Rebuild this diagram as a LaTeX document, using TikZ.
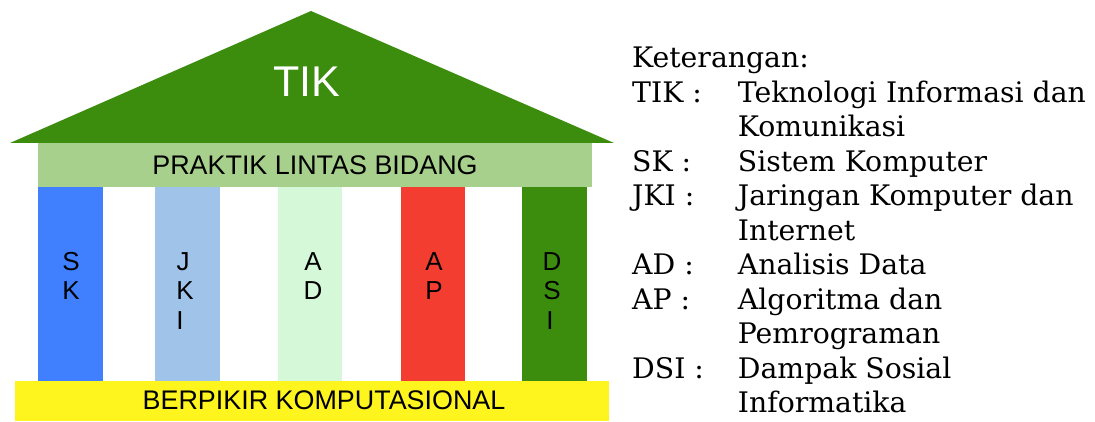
\documentclass[tikz,border=0pt]{standalone}
\usepackage{fontspec}
\setmainfont{DejaVu Serif}
\newfontfamily\arialf{Liberation Sans}
\definecolor{roofgreen}{RGB}{60,141,14}
\definecolor{praktik}{RGB}{168,208,141}
\definecolor{skblue}{RGB}{64,128,255}
\definecolor{jkiblue}{RGB}{160,195,233}
\definecolor{admint}{RGB}{213,248,216}
\definecolor{apred}{RGB}{242,61,48}
\definecolor{bkyellow}{RGB}{255,245,30}
\tikzset{
  bar/.style={draw=none, inner sep=0pt, outer sep=0pt},
  pillar/.style={draw=none, inner sep=0pt, outer sep=0pt, minimum width=64.5pt, minimum height=194pt},
  plabel/.style={font=\arialf\fontsize{26}{30}\selectfont, anchor=base, inner sep=0pt},
  blabel/.style={font=\arialf\fontsize{26.9}{31}\selectfont, anchor=base, inner sep=0pt},
  legend/.style={font=\fontsize{28.3}{34}\selectfont, anchor=base west, inner sep=0pt}
}
\begin{document}
\begin{tikzpicture}[x=1pt,y=-1pt]
\useasboundingbox (0,0) rectangle (1095,422);
\fill[white] (0,0) rectangle (1095,422);
% roof
\fill[roofgreen] (10,143) -- (311,11) -- (614,143) -- cycle;
\node[font=\arialf\fontsize{43}{50}\selectfont, text=white, anchor=base, inner sep=0pt] (tik) at (307,97) {TIK};
% praktik bar
\node[bar, fill=praktik, minimum width=553.5pt, minimum height=44pt] (plb) at (315.2,165) {};
\node[blabel] (plbt) at (315,174.3) {PRAKTIK LINTAS BIDANG};
% pillars
\node[pillar, fill=skblue] (sk) at (70.7,284) {};
\node[pillar, fill=jkiblue] (jki) at (187.5,284) {};
\node[pillar, fill=admint] (ad) at (310,284) {};
\node[pillar, fill=apred] (ap) at (433,284) {};
\node[pillar, fill=roofgreen] (dsi) at (554.5,284) {};
% pillar letters
\node[plabel] (sk1) at (71,270) {S};
\node[plabel] (sk2) at (71,299.5) {K};
\node[plabel] (jki1) at (183,270) {J};
\node[plabel] (jki2) at (185,299.5) {K};
\node[plabel] (jki3) at (180,329) {I};
\node[plabel] (ad1) at (313,270) {A};
\node[plabel] (ad2) at (313,299.5) {D};
\node[plabel] (ap1) at (434,270) {A};
\node[plabel] (ap2) at (434,299.5) {P};
\node[plabel] (dsi1) at (552,270) {D};
\node[plabel] (dsi2) at (552,299.5) {S};
\node[plabel] (dsi3) at (550,329) {I};
% base bar
\node[bar, fill=bkyellow, minimum width=594.3pt, minimum height=39.7pt] (bk) at (311.85,400.85) {};
\node[blabel] (bkt) at (324,409.3) {BERPIKIR KOMPUTASIONAL};
% legend
\node[legend] (k0) at (632,67.7) {Keterangan:};
\node[legend] (a1) at (632,102.2) {TIK :};
\node[legend] (d1) at (737.7,102.2) {Teknologi Informasi dan};
\node[legend] (d2) at (737.7,136.7) {Komunikasi};
\node[legend] (a3) at (632,171.2) {SK :};
\node[legend] (d3) at (737.7,171.2) {Sistem Komputer};
\node[legend] (a4) at (632,205.7) {JKI :};
\node[legend] (d4) at (737.7,205.7) {Jaringan Komputer dan};
\node[legend] (d5) at (737.7,240.2) {Internet};
\node[legend] (a6) at (632,274.7) {AD :};
\node[legend] (d6) at (737.7,274.7) {Analisis Data};
\node[legend] (a7) at (632,309.2) {AP :};
\node[legend] (d7) at (737.7,309.2) {Algoritma dan};
\node[legend] (d8) at (737.7,343.7) {Pemrograman};
\node[legend] (a9) at (632,378.2) {DSI :};
\node[legend] (d9) at (737.7,378.2) {Dampak Sosial};
\node[legend] (d10) at (737.7,412.7) {Informatika};
\end{tikzpicture}
\end{document}
